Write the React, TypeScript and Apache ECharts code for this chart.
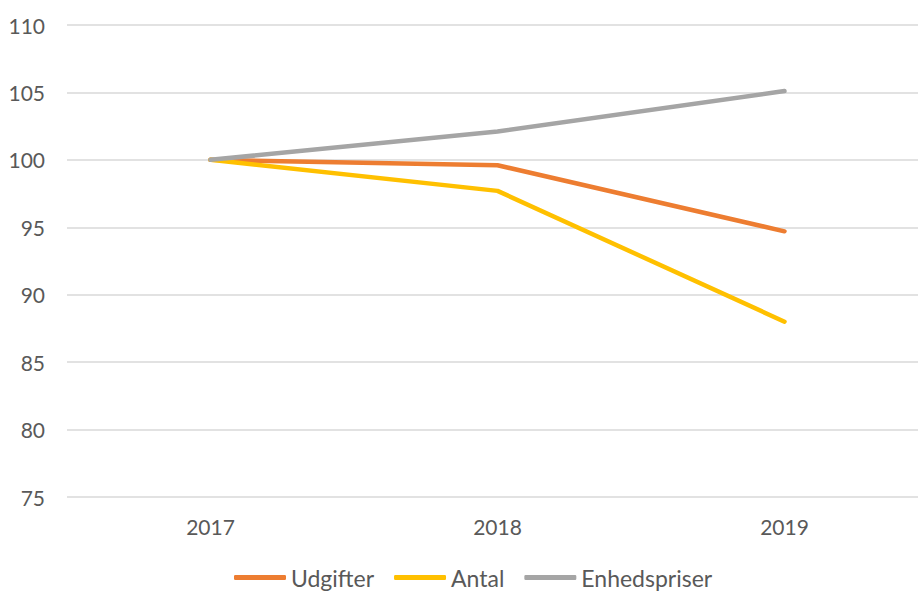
import React, { useEffect, useRef } from "react";
import * as echarts from "echarts";

const years = ["2017", "2018", "2019"];
const udgifter = [100, 99.6, 94.7];
const antal = [100, 97.7, 88.0];
const enhedspriser = [100, 102.1, 105.1];

export default function App() {
  const ref = useRef<HTMLDivElement>(null);
  useEffect(() => {
    document.body.style.margin = "0";
    const chart = echarts.init(ref.current!, null, { renderer: "svg" });
    const font = "Lato, 'Open Sans', sans-serif";
    const mk = (name: string, data: number[], color: string) => ({
      name,
      type: "line",
      data,
      symbol: "none",
      lineStyle: { width: 4.5, color, cap: "round", join: "round" },
      itemStyle: { color },
    });
    chart.setOption({
      animation: false,
      textStyle: { fontFamily: font },
      grid: { left: 67, top: 25, right: -10, bottom: 94, containLabel: false, outerBoundsMode: "none" },
      xAxis: {
        type: "category",
        data: years,
        boundaryGap: true,
        axisLine: { show: false },
        axisTick: { show: false },
        axisLabel: { color: "#595959", fontSize: 21, margin: 19, fontFamily: font },
      },
      yAxis: {
        type: "value",
        min: 75,
        max: 110,
        interval: 5,
        axisLine: { show: false },
        axisTick: { show: false },
        splitLine: { lineStyle: { color: "#D9D9D9", width: 1.5 } },
        axisLabel: { color: "#595959", fontSize: 21, margin: 22, fontFamily: font },
      },
      legend: {
        bottom: -3,
        left: 229,
        icon: "roundRect",
        itemWidth: 52,
        itemHeight: 5,
        itemGap: 20,
        textStyle: { color: "#595959", fontSize: 23, fontFamily: font },
        data: ["Udgifter", "Antal", "Enhedspriser"],
      },
      series: [
        mk("Udgifter", udgifter, "#ED7D31"),
        mk("Antal", antal, "#FFC000"),
        mk("Enhedspriser", enhedspriser, "#A5A5A5"),
      ],
    });
    return () => chart.dispose();
  }, []);
  return <div ref={ref} style={{ width: 918, height: 591 }} />;
}
